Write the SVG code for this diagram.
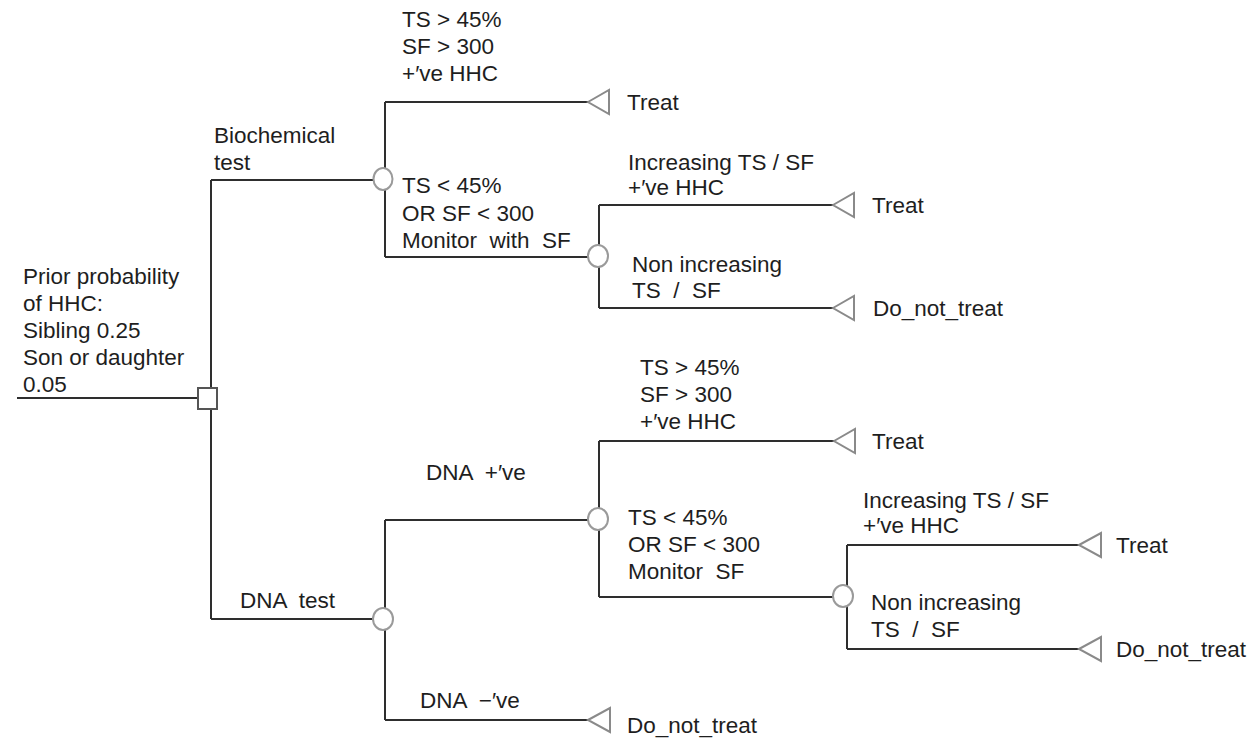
<svg xmlns="http://www.w3.org/2000/svg" width="1255" height="742" viewBox="0 0 1255 742">
<style>
.ln{stroke:#2e2e2e;stroke-width:2;fill:none}
.ch{stroke:#9a9a9a;stroke-width:2;fill:#fff}
.tm{stroke:#8a8a8a;stroke-width:2;fill:#fff;stroke-linejoin:miter}
.dc{stroke:#555;stroke-width:2;fill:#fff}
text{font-family:"Liberation Sans",Arial,sans-serif;font-size:22.5px;fill:#1e1e1e;white-space:pre}
</style>
<rect width="1255" height="742" fill="#fff"/>
<g id="connectors">
<path class="ln" d="M17,398H198"/>
<path class="ln" d="M211,180V619"/>
<path class="ln" d="M211,180H374"/>
<path class="ln" d="M385,102V257"/>
<path class="ln" d="M385,102H588"/>
<path class="ln" d="M385,257H588"/>
<path class="ln" d="M599,205V308"/>
<path class="ln" d="M599,205H833"/>
<path class="ln" d="M599,308H833"/>
<path class="ln" d="M211,619H373"/>
<path class="ln" d="M385,520V720"/>
<path class="ln" d="M385,520H588"/>
<path class="ln" d="M385,720H588"/>
<path class="ln" d="M599,441V597"/>
<path class="ln" d="M599,441H834"/>
<path class="ln" d="M599,597H833"/>
<path class="ln" d="M847,545V649"/>
<path class="ln" d="M847,545H1079"/>
<path class="ln" d="M847,649H1079"/>
</g>
<g id="root">
<rect class="dc" x="198" y="388" width="19" height="21"/>
<text x="23" y="284">Prior probability</text>
<text x="23" y="311">of HHC:</text>
<text x="23" y="338">Sibling 0.25</text>
<text x="23" y="365">Son or daughter</text>
<text x="23" y="392">0.05</text>
</g>
<g id="biochem">
<ellipse class="ch" cx="383" cy="179" rx="9.5" ry="11"/>
<text x="214" y="143">Biochemical</text>
<text x="214" y="170">test</text>
</g>
<g id="treat1">
<path class="tm" d="M588,102L609,90V114Z"/>
<text x="627" y="110">Treat</text>
<text x="402" y="27">TS &gt; 45%</text>
<text x="402" y="54">SF &gt; 300</text>
<text x="402" y="81">+′ve HHC</text>
</g>
<g id="monitor1">
<ellipse class="ch" cx="598" cy="256" rx="10" ry="11"/>
<text x="402" y="193">TS &lt; 45%</text>
<text x="402" y="221">OR SF &lt; 300</text>
<text x="402" y="248">Monitor  with  SF</text>
</g>
<g id="treat2">
<path class="tm" d="M833,205L854,193V217Z"/>
<text x="872" y="213">Treat</text>
<text x="628" y="170">Increasing TS / SF</text>
<text x="628" y="195">+′ve HHC</text>
</g>
<g id="dnt1">
<path class="tm" d="M833,308L854,296V320Z"/>
<text x="873" y="316">Do_not_treat</text>
<text x="632" y="272">Non increasing</text>
<text x="632" y="298">TS  /  SF</text>
</g>
<g id="dnatest">
<ellipse class="ch" cx="383" cy="619" rx="10" ry="11"/>
<text x="240" y="608">DNA  test</text>
</g>
<g id="dnapos">
<ellipse class="ch" cx="598" cy="519" rx="10" ry="11"/>
<text x="426" y="480">DNA  +′ve</text>
</g>
<g id="treat3">
<path class="tm" d="M834,441L855,429V453Z"/>
<text x="872" y="449">Treat</text>
<text x="640" y="375">TS &gt; 45%</text>
<text x="640" y="402">SF &gt; 300</text>
<text x="640" y="429">+′ve HHC</text>
</g>
<g id="monitor2">
<ellipse class="ch" cx="843" cy="596" rx="10" ry="11"/>
<text x="628" y="525">TS &lt; 45%</text>
<text x="628" y="552">OR SF &lt; 300</text>
<text x="628" y="579">Monitor  SF</text>
</g>
<g id="treat4">
<path class="tm" d="M1079,545L1101,533V557Z"/>
<text x="1116" y="553">Treat</text>
<text x="863" y="508">Increasing TS / SF</text>
<text x="863" y="533">+′ve HHC</text>
</g>
<g id="dnt2">
<path class="tm" d="M1079,649L1101,637V661Z"/>
<text x="1116" y="657">Do_not_treat</text>
<text x="871" y="610">Non increasing</text>
<text x="871" y="637">TS  /  SF</text>
</g>
<g id="dnaneg">
<path class="tm" d="M588,720L610,708V732Z"/>
<text x="627" y="733">Do_not_treat</text>
<text x="420" y="708">DNA  −′ve</text>
</g>
</svg>
